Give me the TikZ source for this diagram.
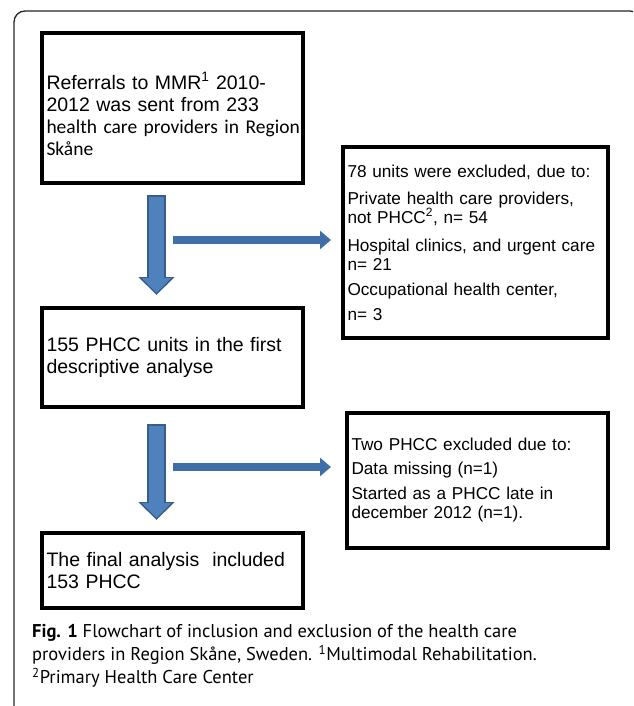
\documentclass[tikz,border=0pt]{standalone}
\usepackage{fontspec}
\setmainfont{Liberation Sans}
\newfontfamily\calibri{Carlito}
\newfontfamily\capfont{PT Sans}
\usetikzlibrary{arrows.meta}
\definecolor{arrowblue}{HTML}{4F81BD}
\definecolor{arrowedge}{HTML}{385D8A}
\definecolor{linkblue}{HTML}{406EA6}

\begin{document}
\begin{tikzpicture}[x=1pt,y=-1pt,
    box/.style={draw,line width=4pt,rectangle,inner xsep=4.5pt,inner ysep=0pt,align=left},
    leftbox/.style={box,minimum width=261pt,text width=252pt,font=\fontsize{19.5}{21.5}\selectfont},
    rightbox/.style={box,font=\fontsize{17.2}{19}\selectfont},
    downouter/.style={arrowedge,line width=19pt,-{Triangle[width=35pt,length=18pt]}},
    downinner/.style={arrowblue,line width=15pt,-{Triangle[width=29pt,length=15pt]}},
    sidearrow/.style={linkblue,line width=7.5pt,-{Triangle[width=18pt,length=11pt]}}]
      \useasboundingbox (0,0) rectangle (633,706);
      \clip (0,0) rectangle (633,706);
      % frame of the figure
      \draw[black!85,line width=1.3pt,rounded corners=11pt] (14,720) -- (14,11) -- (641,11) -- (641,720);
      % left column
      \node[leftbox,minimum height=149.5pt,font=\fontsize{19.5}{22}\selectfont] (refer) at (172.5,108.25)
        {\rule{0pt}{28pt}Referrals to MMR\textsuperscript{1} 2010-\\2012 was sent from 233\\\mbox{\calibri health care providers in Region}\\{\calibri Skåne}};
      \node[leftbox,minimum height=99pt] (first) at (172.5,357.5)
        {155 PHCC units in the first\\descriptive analyse};
      \node[leftbox,minimum height=75pt] (final) at (172.5,570.5)
        {The final analysis\ \ included\\153 PHCC};
      % right column
      \node[rightbox,minimum width=265pt,text width=256pt,minimum height=191pt] (excl) at (475.5,242.5)
        {78 units were excluded, due to:\\[8pt]Private health care providers,\\not PHCC\textsuperscript{2}, n= 54\\[9pt]Hospital clinics, and urgent care\\n= 21\\[6pt]Occupational health center,\\[6pt]n= 3};
      \node[rightbox,minimum width=261pt,text width=252pt,minimum height=135pt] (two) at (477.5,480.5)
        {Two PHCC excluded due to:\\[5pt]Data missing (n=1)\\[6pt]Started as a PHCC late in\\december 2012 (n=1).};
      % arrows
      \coordinate (ax) at (156.5,0);
      \coordinate (h1) at (173,240);
      \coordinate (h2) at (173,467);
      \draw[downouter,shorten <=10pt,shorten >=11pt] (refer.south -| ax) -- (first.north -| ax);
      \draw[downinner,shorten <=12pt,shorten >=13pt] (refer.south -| ax) -- (first.north -| ax);
      \draw[downouter,shorten <=15pt,shorten >=11pt] (first.south -| ax) -- (final.north -| ax);
      \draw[downinner,shorten <=17pt,shorten >=13pt] (first.south -| ax) -- (final.north -| ax);
      \draw[sidearrow,shorten >=10pt] (h1) -- (h1 -| excl.west);
      \draw[sidearrow,shorten >=14pt] (h2) -- (h2 -| two.west);
      % caption
      \node[anchor=north west,inner sep=0pt,align=left,font=\capfont\fontsize{18.5}{23}\selectfont] (cap) at (32,624)
        {\textbf{Fig. 1} Flowchart of inclusion and exclusion of the health care\\providers in Region Skåne, Sweden. \textsuperscript{1}Multimodal Rehabilitation.\\\textsuperscript{2}Primary Health Care Center};
    \end{tikzpicture}
\end{document}
